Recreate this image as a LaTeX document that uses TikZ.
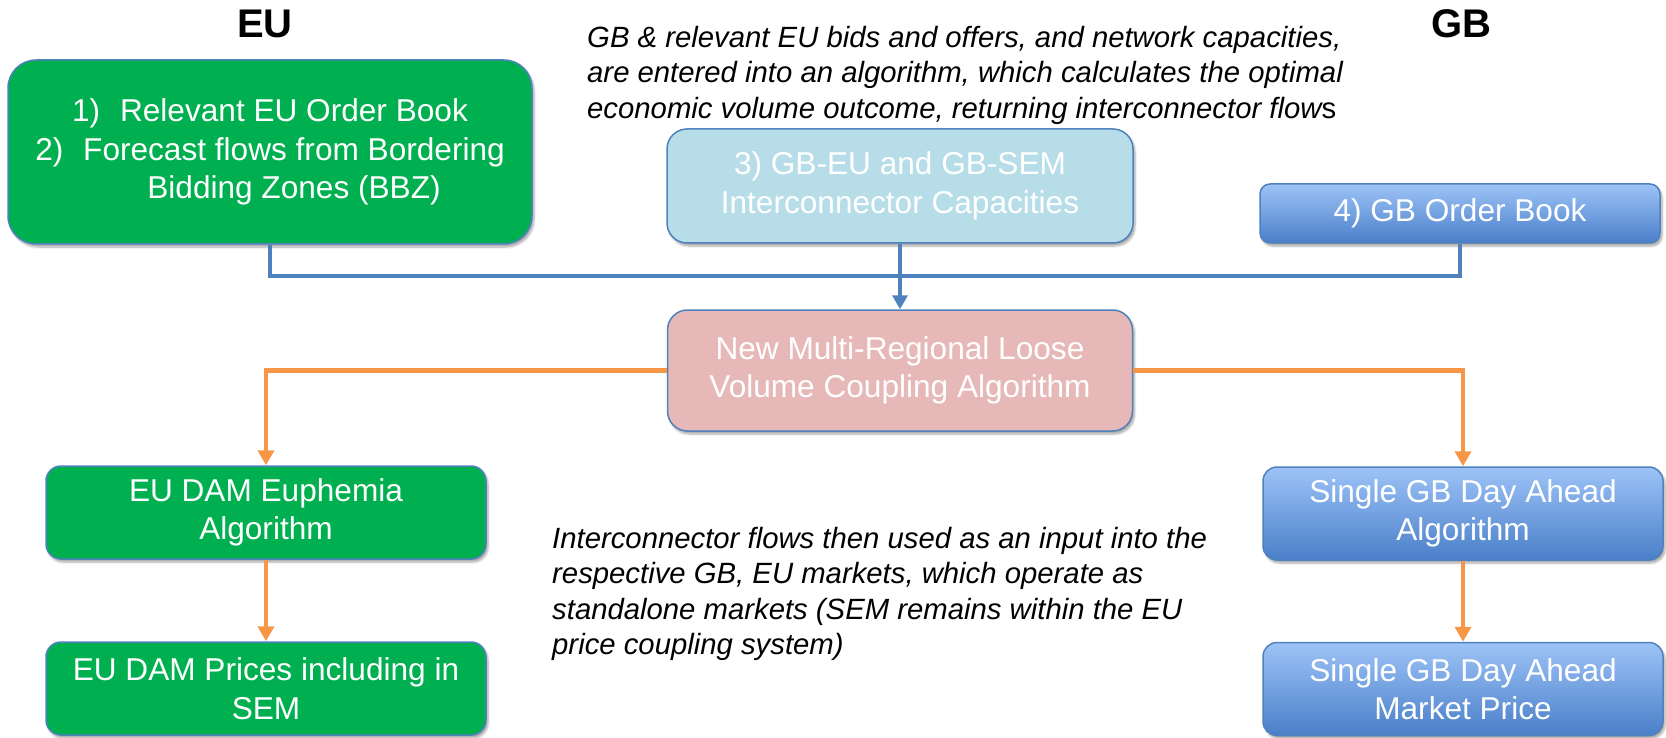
\documentclass[tikz,border=0pt]{standalone}
\usepackage{fontspec}
\setmainfont{Liberation Sans}
\usetikzlibrary{arrows.meta,shadows.blur}
\definecolor{eugreen}{HTML}{00B050}
\definecolor{boxline}{HTML}{4F81BD}
\definecolor{capblue}{HTML}{B7DEE8}
\definecolor{algpink}{HTML}{E6B9B8}
\definecolor{gbtop}{HTML}{9DC3F7}
\definecolor{gbbottom}{HTML}{4A7FC9}
\definecolor{flowline}{HTML}{4F81BD}
\definecolor{flowout}{HTML}{F79646}

\begin{document}
\begin{tikzpicture}[x=1pt,y=-1pt,
  box/.style={draw=boxline, line width=1.5pt, text=white, align=center, inner sep=0pt,
    font=\fontsize{31.6}{38.5}\selectfont,
    blur shadow={shadow xshift=2pt, shadow yshift=-3pt, shadow blur steps=6, shadow opacity=35}},
  eubox/.style={box, fill=eugreen},
  gbbox/.style={box, top color=gbtop, bottom color=gbbottom, rounded corners=14pt,
    minimum width=400pt, minimum height=93pt},
  note/.style={font=\fontsize{29.3}{35.3}\selectfont\itshape, align=left, inner sep=0pt, anchor=north west},
  side/.style={font=\fontsize{40}{48}\selectfont\bfseries},
  feed/.style={draw=flowline, line width=4.5pt},
  result/.style={draw=flowout, line width=4.5pt, -{Triangle[width=16pt,length=15pt]}}
]
\useasboundingbox (0,0) rectangle (1666,738);

\node[side] (eu) at (265,24) {EU};
\node[side] (gb) at (1461,24) {GB};

\node[eubox, rounded corners=28pt, minimum width=524pt, minimum height=184pt] (euorder) at (270,152)
  {\makebox[48pt][l]{1)}Relevant EU Order Book\\ \makebox[48pt][l]{2)}Forecast flows from Bordering\\ \hspace*{48pt}Bidding Zones (BBZ)};
\node[note] (topnote) at (587,26)
  {GB \& relevant EU bids and offers, and network capacities,\\ are entered into an algorithm, which calculates the optimal\\ economic volume outcome, returning interconnector flow{\upshape s}};
\node[box, fill=capblue, rounded corners=20pt, minimum width=466pt, minimum height=114pt] (caps) at (900,186)
  {3) GB-EU and GB-SEM\\ Interconnector Capacities};
\node[gbbox, rounded corners=10pt, minimum height=59pt] (gborder) at (1460,213.5) {4) GB Order Book};

\node[box, fill=algpink, rounded corners=20pt, minimum width=465pt, minimum height=121pt] (coupling) at (900,370.5)
  {New Multi-Regional Loose\\ Volume Coupling Algorithm};

\node[eubox, rounded corners=15pt, minimum width=440pt, minimum height=93pt] (euphemia) at (266,512.5)
  {EU DAM Euphemia\\ Algorithm};
\node[eubox, rounded corners=15pt, minimum width=440pt, minimum height=93pt] (euprices) at (266,688.5)
  {EU DAM Prices including in\\ SEM};
\node[gbbox] (gbalgo) at (1463,513.5) {Single GB Day Ahead\\ Algorithm};
\node[gbbox] (gbprice) at (1463,689) {Single GB Day Ahead\\ Market Price};
\node[note] (lownote) at (552,527)
  {Interconnector flows then used as an input into the\\ respective GB, EU markets, which operate as\\ standalone markets (SEM remains within the EU\\ price coupling system)};

\coordinate (bus) at (900,276);
\draw[feed] (euorder.south) |- (bus) -| (gborder.south);
\draw[feed, -{Triangle[width=15pt,length=14pt]}] (caps.south) -- (coupling.north);
\draw[result] (coupling.west) -| (euphemia.north);
\draw[result] (coupling.east) -| (gbalgo.north);
\draw[result] (euphemia) -- (euprices);
\draw[result] (gbalgo) -- (gbprice);
\end{tikzpicture}
\end{document}
